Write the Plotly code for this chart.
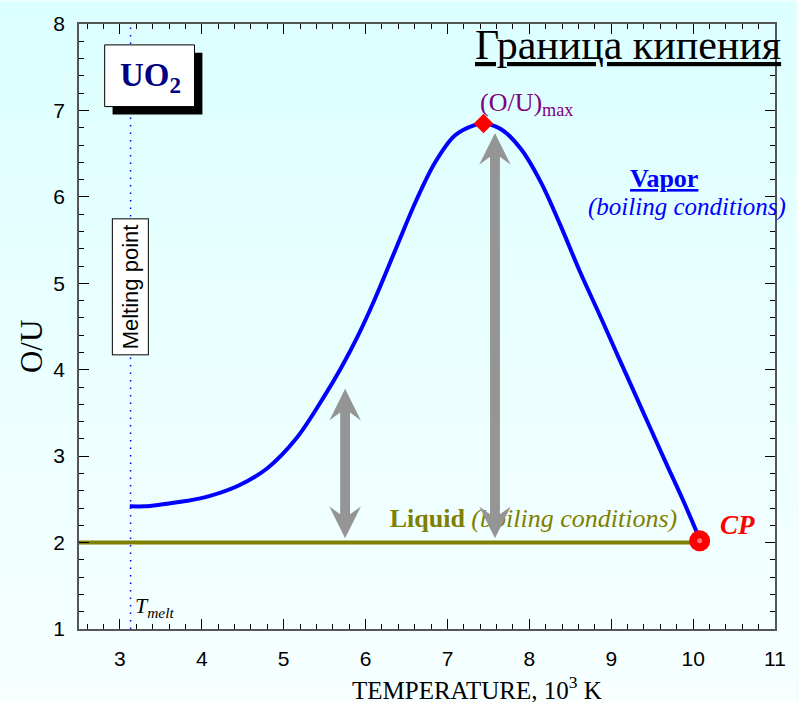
import plotly.graph_objects as go

# ---- data ----
vap_T = [3.12, 3.3, 3.5, 3.8, 4.1, 4.45, 4.8, 5.15, 5.5, 5.7, 5.9, 6.1, 6.37, 6.61, 6.85,
         7.09, 7.33, 7.44, 7.66, 7.9, 8.14, 8.38, 8.62, 8.86, 9.1, 9.38, 9.66, 9.9, 10.08]
vap_OU = [2.42, 2.42, 2.44, 2.48, 2.54, 2.66, 2.86, 3.20, 3.70, 4.02, 4.38, 4.79, 5.40, 5.94, 6.40,
          6.71, 6.83, 6.85, 6.78, 6.55, 6.17, 5.67, 5.13, 4.63, 4.12, 3.53, 2.94, 2.44, 2.04]
liq_T = [2.5, 10.08]
liq_OU = [2.0, 2.0]
max_T, max_OU = 7.44, 6.85
cp_T, cp_OU = 10.08, 2.02
T_melt = 3.13
arrow_T = [5.75, 7.58]
arrow_low = [2.05, 2.05]
arrow_high = [3.78, 6.74]
x_ticks = [3, 4, 5, 6, 7, 8, 9, 10, 11]
y_ticks = [1, 2, 3, 4, 5, 6, 7, 8]

XR = [2.5, 11.0]
YR = [1.0, 8.0]
L, R, T, B = 79, 14, 21, 73
W, H = 798, 702
pw, ph = W - L - R, H - T - B
px_x = pw / (XR[1] - XR[0])
px_y = ph / (YR[1] - YR[0])

SERIF = "Liberation Serif, DejaVu Serif, serif"
SANS = "Liberation Sans, Arial, sans-serif"

fig = go.Figure()

# background gradient bands
n = 40
top = (220, 255, 255)
bot = (247, 255, 255)
y_top_p = (T + ph) / ph
y_bot_p = -B / ph
for i in range(n):
    f = i / (n - 1)
    c = tuple(round(top[k] + (bot[k] - top[k]) * f) for k in range(3))
    y1 = y_top_p - (y_top_p - y_bot_p) * i / n
    y0 = y_top_p - (y_top_p - y_bot_p) * (i + 1) / n
    fig.add_shape(type="rect", xref="paper", yref="paper", x0=-L / pw - 0.01, x1=1 + R / pw + 0.01,
                  y0=y0 - 0.002, y1=y1 + 0.002, fillcolor="rgb(%d,%d,%d)" % c,
                  line=dict(width=0), layer="below")

# melting dotted line
fig.add_trace(go.Scatter(x=[T_melt, T_melt], y=YR, mode="lines",
                         line=dict(color="#0000ff", width=1.5, dash="1.5px,6px"),
                         hoverinfo="skip", showlegend=False))
# liquid line
fig.add_trace(go.Scatter(x=liq_T, y=liq_OU, mode="lines",
                         line=dict(color="#808000", width=4), showlegend=False))
# vapor curve
fig.add_trace(go.Scatter(x=vap_T, y=vap_OU, mode="lines",
                         line=dict(color="#0000ff", width=4, shape="spline", smoothing=1.0),
                         showlegend=False))
# Liquid label (as text trace so arrows may overlay it)
fig.add_trace(go.Scatter(x=[8.05], y=[2.25], mode="text",
                         text=["<b>Liquid</b> <i>(boiling conditions)</i>"],
                         textfont=dict(family=SERIF, size=26, color="#808000"),
                         showlegend=False, hoverinfo="skip"))

# double arrows
hw = 5 / px_x
hhw = 16 / px_x
hl_tip = 32 / px_y
hl_j = 24 / px_y
for xc, y0, y1 in zip(arrow_T, arrow_low, arrow_high):
    xs = [xc, xc + hhw, xc + hw, xc + hw, xc + hhw, xc, xc - hhw, xc - hw, xc - hw, xc - hhw, xc]
    ys = [y1, y1 - hl_tip, y1 - hl_j, y0 + hl_j, y0 + hl_tip, y0, y0 + hl_tip, y0 + hl_j, y1 - hl_j, y1 - hl_tip, y1]
    fig.add_trace(go.Scatter(x=xs, y=ys, mode="lines", fill="toself", fillcolor="#959595",
                             line=dict(width=0, color="#959595"), showlegend=False, hoverinfo="skip"))

# max diamond
fig.add_trace(go.Scatter(x=[max_T], y=[max_OU], mode="markers",
                         marker=dict(symbol="diamond", size=15, color="#ff0000"), showlegend=False))
# CP marker
fig.add_trace(go.Scatter(x=[cp_T], y=[cp_OU], mode="markers",
                         marker=dict(symbol="circle", size=21, color="#ff0000",
                                     line=dict(width=0)), showlegend=False))
fig.add_trace(go.Scatter(x=[cp_T], y=[cp_OU], mode="markers",
                         marker=dict(symbol="circle", size=5, color="#ff7878",
                                     line=dict(width=0)), showlegend=False))

def pxp(px, py):
    return (px - L) / pw, (T + ph - py) / ph

# UO2 box with shadow
sx0, sy0 = pxp(113, 112)
sx1, sy1 = pxp(204, 50)
fig.add_shape(type="rect", xref="paper", yref="paper", x0=sx0, y0=sy0, x1=sx1, y1=sy1,
              fillcolor="#000000", line=dict(width=0), layer="above")
bx0, by0 = pxp(105, 104)
bx1, by1 = pxp(196, 42)
fig.add_shape(type="rect", xref="paper", yref="paper", x0=bx0, y0=by0, x1=bx1, y1=by1,
              fillcolor="#ffffff", line=dict(width=1, color="#000000"), layer="above")
ux, uy = pxp(151, 75)
fig.add_annotation(xref="paper", yref="paper", x=ux, y=uy, xanchor="center", yanchor="middle",
                   text="<b>UO<sub>2</sub></b>", showarrow=False,
                   font=dict(family=SERIF, size=33, color="#000080"))

# Melting point box
fig.add_annotation(x=T_melt, y=4.96, text="Melting point", textangle=-90, showarrow=False,
                   xanchor="center", yanchor="middle",
                   font=dict(family=SANS, size=22, color="#000000"),
                   bgcolor="#ffffff", bordercolor="#000000", borderwidth=1, borderpad=5)

# T_melt label
fig.add_annotation(x=T_melt + 0.03, y=1.26, xanchor="left", yanchor="middle", showarrow=False,
                   text="<i>T</i><sub><i>melt</i></sub>",
                   font=dict(family=SERIF, size=22, color="#000000"))

# Title
tx, ty = pxp(792, 42)
fig.add_annotation(xref="paper", yref="paper", x=tx, y=ty, xanchor="right", yanchor="middle",
                   showarrow=False, text="<u>Граница кипения</u>",
                   font=dict(family=SERIF, size=42, color="#000000"))

# (O/U)max
fig.add_annotation(x=7.97, y=7.08, showarrow=False, xanchor="center", yanchor="middle",
                   text="(O/U)<sub>max</sub>",
                   font=dict(family=SERIF, size=26, color="#800080"))

# Vapor label
fig.add_annotation(x=9.65, y=6.21, showarrow=False, xanchor="center", yanchor="middle",
                   text="<b><u>Vapor</u></b>",
                   font=dict(family=SERIF, size=26, color="#0000ff"))
fig.add_annotation(x=9.92, y=5.88, showarrow=False, xanchor="center", yanchor="middle",
                   text="<i>(boiling conditions)</i>",
                   font=dict(family=SERIF, size=25, color="#0000ff"))

# CP label
fig.add_annotation(x=10.54, y=2.2, showarrow=False, xanchor="center", yanchor="middle",
                   text="<b><i>CP</i></b>",
                   font=dict(family=SERIF, size=27, color="#ff0000"))

# axis titles
ax_, ay_ = pxp(482, 688)
fig.add_annotation(xref="paper", yref="paper", x=ax_, y=ay_, xanchor="center", yanchor="middle",
                   showarrow=False, text="TEMPERATURE, 10<sup>3</sup> K",
                   font=dict(family=SERIF, size=25, color="#000000"))
yx_, yy_ = pxp(31, 345)
fig.add_annotation(xref="paper", yref="paper", x=yx_, y=yy_, xanchor="center", yanchor="middle",
                   showarrow=False, textangle=-90,
                   text="O/U", font=dict(family=SERIF, size=31, color="#000000"))

axis_common = dict(showgrid=False, zeroline=False, showline=True, linecolor="#555555",
                   linewidth=1.5, mirror="ticks", ticks="inside", ticklen=10, tickwidth=1.2,
                   tickcolor="#000000", tickfont=dict(family=SANS, size=21, color="#000000"),
                   minor=dict(ticks="inside", ticklen=5, tickwidth=1, tickcolor="#000000", dtick=0.2))

fig.update_xaxes(range=XR, tickvals=x_ticks, ticktext=[str(v) for v in x_ticks],
                 ticklabelstandoff=10, **axis_common)
fig.update_yaxes(range=YR, tickvals=y_ticks, ticktext=[str(v) for v in y_ticks],
                 ticklabelstandoff=8, **axis_common)

fig.update_layout(width=W, height=H, margin=dict(l=L, r=R, t=T, b=B),
                  paper_bgcolor="#ecffff", plot_bgcolor="rgba(0,0,0,0)",
                  showlegend=False, hovermode=False)

fig.write_html("out.html")
